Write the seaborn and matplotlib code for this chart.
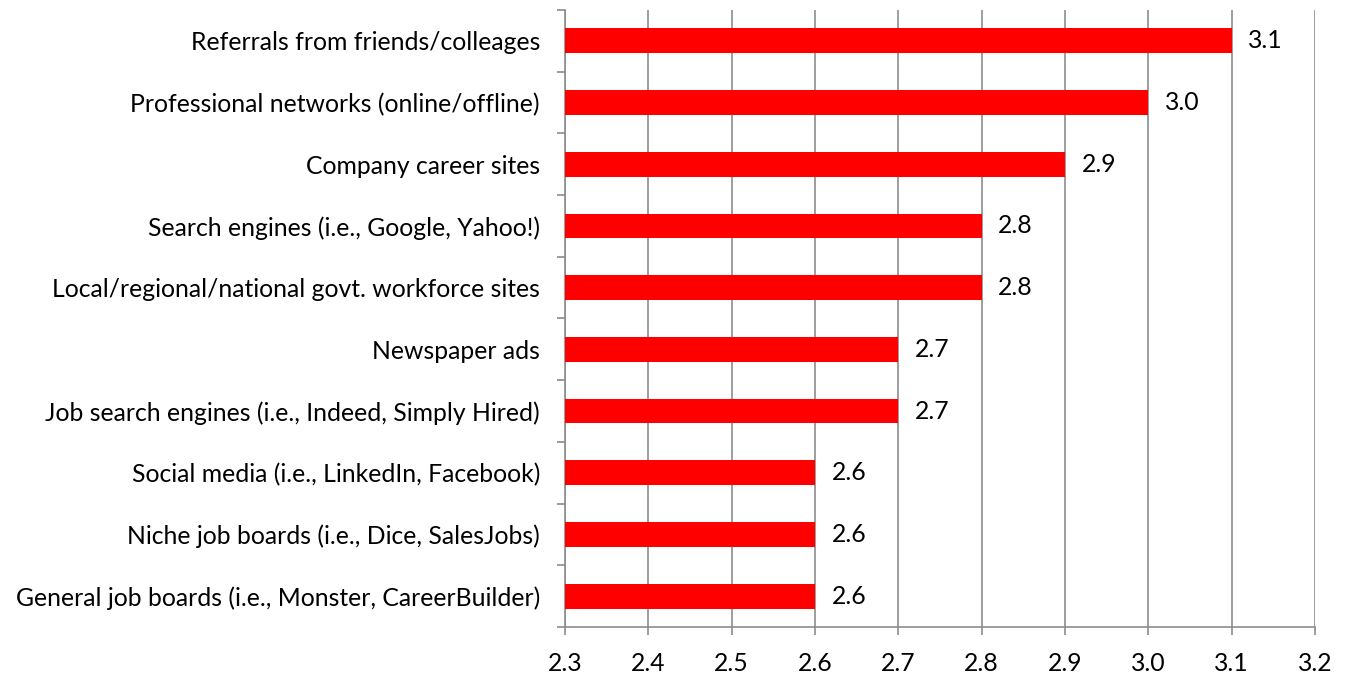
import numpy as np
import pandas as pd
import matplotlib
matplotlib.use('Agg')
import matplotlib.pyplot as plt
import seaborn as sns

# chart data, top to bottom
SOURCES = [
    'Referrals from friends/colleages',
    'Professional networks (online/offline)',
    'Company career sites',
    'Search engines (i.e., Google, Yahoo!)',
    'Local/regional/national govt. workforce sites',
    'Newspaper ads',
    'Job search engines (i.e., Indeed, Simply Hired)',
    'Social media (i.e., LinkedIn, Facebook)',
    'Niche job boards (i.e., Dice, SalesJobs)',
    'General job boards (i.e., Monster, CareerBuilder)',
]
SCORES = [3.1, 3.0, 2.9, 2.8, 2.8, 2.7, 2.7, 2.6, 2.6, 2.6]
X_TICKS = [2.3, 2.4, 2.5, 2.6, 2.7, 2.8, 2.9, 3.0, 3.1, 3.2]

GRID = '#8c8c8c'
FS = 17.8

sns.set_style('white')
plt.rcParams['font.family'] = ['Lato', 'DejaVu Sans']
plt.rcParams['text.color'] = 'black'
plt.rcParams['xtick.labelcolor'] = 'black'
plt.rcParams['ytick.labelcolor'] = 'black'

df = pd.DataFrame({'source': SOURCES, 'score': SCORES})

fig = plt.figure(figsize=(13.45, 6.74), dpi=100)
ax = fig.add_axes([0.42, 0.0697, 0.5577, 0.9155])

sns.barplot(data=df, y='source', x='score', orient='h', color='#ff0000',
            saturation=1, width=0.4, linewidth=0, ax=ax, zorder=3)

ax.set_xlim(2.3, 3.2)
ax.set_ylim(len(SOURCES) - 0.5, -0.5)
ax.set_xticks(X_TICKS)
ax.set_xticklabels([f'{t:.1f}' for t in X_TICKS])
ax.xaxis.grid(True, color=GRID, linewidth=1.2, zorder=0)
ax.set_axisbelow(True)

for i, v in enumerate(SCORES):
    ax.text(v + 0.02, i, f'{v:.1f}', va='center', ha='left', fontsize=FS,
            color='black')

ax.set_xlabel('')
ax.set_ylabel('')
ax.tick_params(axis='x', labelsize=FS, length=6, color=GRID, width=1.2,
               direction='out', bottom=True, pad=12, labelcolor='black')
ax.tick_params(axis='y', which='major', labelsize=FS, length=0, pad=18,
               labelcolor='black')
ax.set_yticks(np.arange(-0.5, len(SOURCES), 1.0), minor=True)
ax.tick_params(axis='y', which='minor', length=6, color=GRID, width=1.2,
               direction='out', left=True)

sns.despine(ax=ax, top=True, right=True)
for s in ('left', 'bottom'):
    ax.spines[s].set_color(GRID)
    ax.spines[s].set_linewidth(1.2)

fig.savefig('out.png', dpi=100)
